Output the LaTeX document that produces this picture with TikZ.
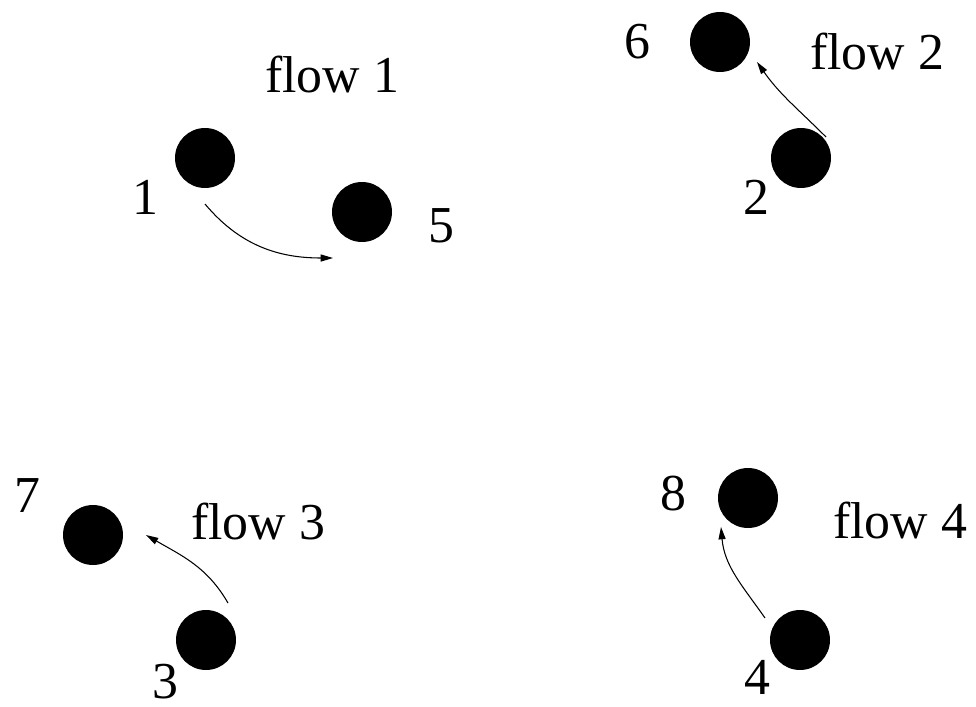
\documentclass[tikz,border=0pt]{standalone}
\usepackage{fontspec}
\setmainfont{Liberation Serif}
\usetikzlibrary{arrows.meta, positioning}

\begin{document}
\begin{tikzpicture}[
    x=0.02cm, y=-0.02cm,
    dot/.style={circle, fill=black, inner sep=0pt, minimum size=1.2cm},
    lbl/.style={inner sep=0pt, font=\fontsize{29.5}{34}\selectfont},
    flowarrow/.style={-{Triangle[length=7pt, width=4pt]}, line width=0.6pt}
]
    \useasboundingbox (0,0) rectangle (976,706);

    % hosts
    \node[dot] (d1) at (205,158) {};
    \node[dot] (d5) at (362,212) {};
    \node[dot] (d6) at (720,42) {};
    \node[dot] (d2) at (801,158) {};
    \node[dot] (d7) at (93,535) {};
    \node[dot] (d3) at (206,640) {};
    \node[dot] (d8) at (748,498) {};
    \node[dot] (d4) at (800,640) {};

    % numbers
    \node[lbl] (n1) at (145,197) {1};
    \node[lbl] (n5) at (441,226) {5};
    \node[lbl] (n6) at (637,42) {6};
    \node[lbl] (n2) at (756,197) {2};
    \node[lbl] (n7) at (27,496) {7};
    \node[lbl] (n3) at (165,682) {3};
    \node[lbl] (n8) at (673,494) {8};
    \node[lbl] (n4) at (757,677) {4};

    % flow names
    \node[lbl] (f1) at (332,75) {flow 1};
    \node[lbl] (f2) at (877,52) {flow 2};
    \node[lbl] (f3) at (258,521) {flow 3};
    \node[lbl] (f4) at (900,520) {flow 4};

    % arrow ends
    \coordinate (a1) at (205,204);
    \coordinate (b1) at (333,258);
    \coordinate (a2) at (826,137);
    \coordinate (b2) at (757,62);
    \coordinate (a3) at (228,603);
    \coordinate (b3) at (146,535);
    \coordinate (a4) at (765,618);
    \coordinate (b4) at (721,527);

    \draw[flowarrow] (a1) to[out=-50, in=180] (b1);
    \draw[flowarrow] (a2) to[out=135, in=-55] (b2);
    \draw[flowarrow] (a3) to[out=120, in=-30] (b3);
    \draw[flowarrow] (a4) to[out=125, in=-85] (b4);
\end{tikzpicture}
\end{document}
